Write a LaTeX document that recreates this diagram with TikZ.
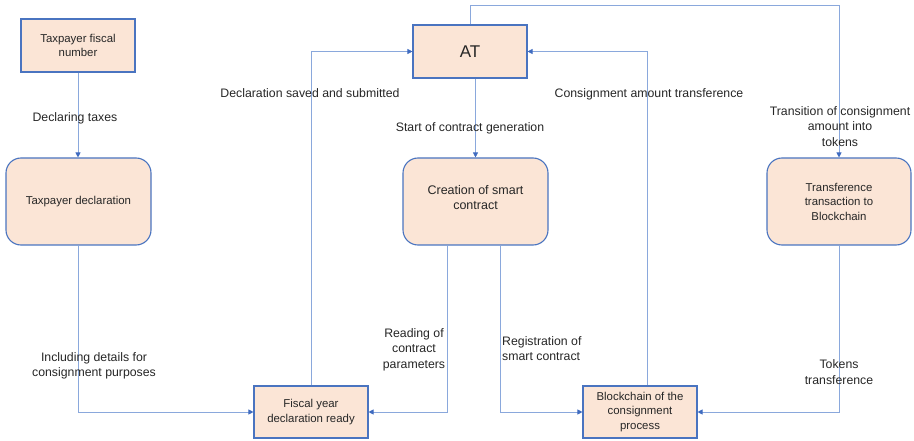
\documentclass[tikz,border=0pt]{standalone}
\usepackage{fontspec}
\setmainfont{Liberation Sans}
\usetikzlibrary{arrows.meta,calc}
\definecolor{boxfill}{HTML}{FBE5D6}
\definecolor{boxline}{HTML}{4A74C0}
\definecolor{conline}{HTML}{8AA8DC}
\definecolor{tipcol}{HTML}{3F6BC0}
\definecolor{txt}{HTML}{262626}
\tikzset{
  sqbox/.style={draw=boxline,fill=boxfill,line width=1.1pt,text=txt,align=center,inner sep=2pt,
    font=\fontsize{11.4}{14.5}\selectfont},
  rbox/.style={sqbox,rounded corners=15pt,minimum width=145pt,minimum height=87pt},
  smallbox/.style={sqbox,minimum width=114pt,minimum height=53pt},
  arr/.style={draw=conline,line width=0.8pt,-{Triangle[length=5pt,width=5pt,color=tipcol]}},
  lbl/.style={text=txt,align=center,inner sep=0pt,font=\fontsize{12.3}{15.5}\selectfont}
}
\begin{document}
\begin{tikzpicture}[x=1pt,y=-1pt]
\useasboundingbox (0,0) rectangle (914,441);
% boxes
\node[smallbox] (fiscal) at (78,45.5) {Taxpayer fiscal\\number};
\node[rbox] (decl) at (78.5,201.5) {Taxpayer declaration};
\node[smallbox,font=\fontsize{17}{20}\selectfont] (AT) at (470,51.5) {AT};
\node[rbox,font=\fontsize{12.5}{15}\selectfont] (creation) at (475.5,201.5) {Creation of smart\\contract\\[-7pt]};
\node[rbox,minimum width=144pt] (trans) at (839,201.5) {Transference\\transaction to\\Blockchain};
\node[smallbox,minimum height=52pt] (fy) at (311,412) {Fiscal year\\declaration ready};
\node[smallbox,minimum height=52pt] (bc) at (640,412) {Blockchain of the\\consignment\\process};
% connectors
\draw[arr] (fiscal.south) -- (fiscal.south |- decl.north);
\draw[arr] (AT.north) -- ++(0,-19) -| (trans.north);
\draw[arr] (AT.south -| creation.north) -- (creation.north);
\draw[arr] (fy.north) |- (AT.west);
\draw[arr] ([xshift=7pt]bc.north) |- (AT.east);
\draw[arr] (decl.south) |- (fy.west);
\draw[arr] ([xshift=-28.5pt]creation.south) |- (fy.east);
\draw[arr] ([xshift=24.5pt]creation.south) |- (bc.west);
\draw[arr] (trans.south) |- (bc.east);
% labels
\node[lbl] (lDecl) at (75,118) {Declaring taxes};
\node[lbl] (lSaved) at (310,93) {Declaration saved and submitted};
\node[lbl] (lStart) at (470,128) {Start of contract generation};
\node[lbl] (lCons) at (649,94) {Consignment amount transference};
\node[lbl] (lTrans) at (840,126.5) {Transition of consignment\\amount into\\tokens};
\node[lbl] (lIncl) at (94,366) {Including details for\\consignment purposes};
\node[lbl] (lRead) at (414,349.5) {Reading of\\contract\\parameters};
\node[lbl,align=left,anchor=west] (lReg) at (502,348.5) {Registration of\\smart contract};
\node[lbl] (lTok) at (839,372) {Tokens\\transference};
\end{tikzpicture}
\end{document}
